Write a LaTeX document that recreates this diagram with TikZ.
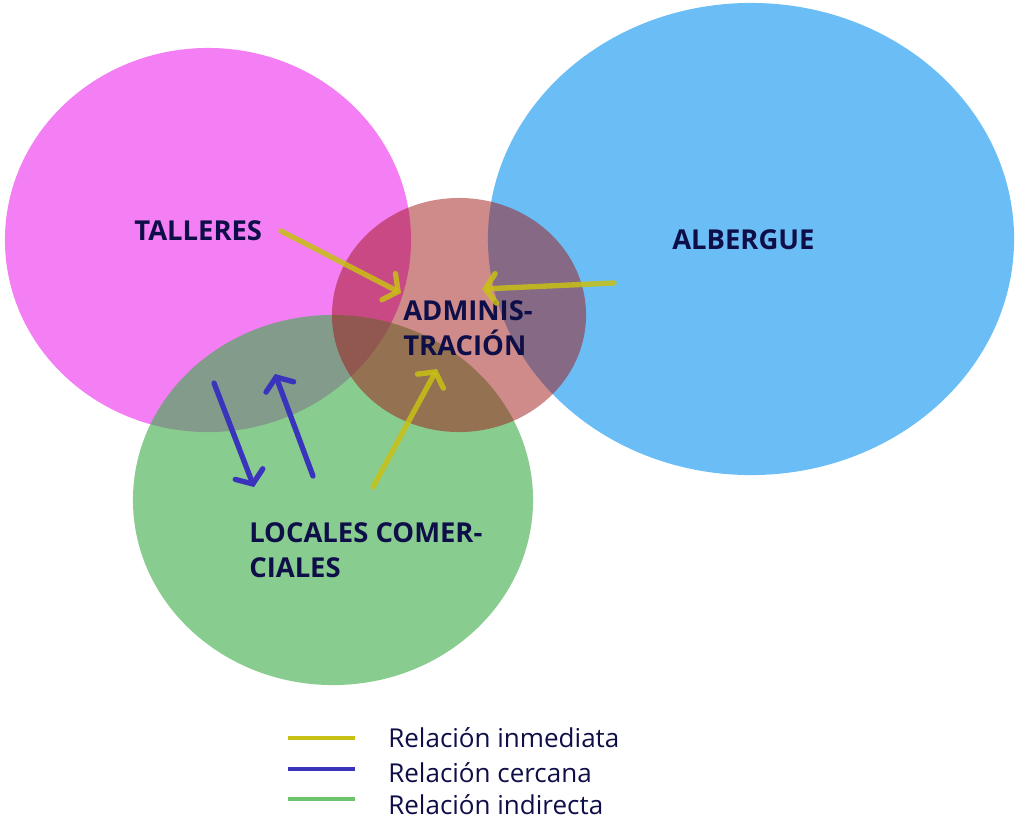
\documentclass[tikz,border=0pt]{standalone}
\usepackage{fontspec}
\setmainfont{Open Sans}
\usepackage{tikz}
\usetikzlibrary{arrows.meta,shapes.geometric}

\definecolor{tallerescol}{RGB}{244,126,244}
\definecolor{alberguecol}{RGB}{107,190,245}
\definecolor{localescol}{RGB}{63,174,74}
\definecolor{admincol}{RGB}{160,22,22}
\definecolor{labelcol}{RGB}{14,14,72}
\definecolor{inmediata}{RGB}{200,192,20}
\definecolor{cercana}{RGB}{58,52,188}
\definecolor{indirecta}{RGB}{108,196,108}

\begin{document}
\begin{tikzpicture}[
    x=0.025cm, y=-0.025cm,
    zone/.style={ellipse, inner sep=0pt},
    label/.style={text=labelcol, inner sep=0pt, font=\fontsize{19.5}{24.5}\selectfont\bfseries, align=left},
    legtext/.style={text=labelcol, inner sep=0pt, anchor=base west, font=\fontsize{18.5}{21}\selectfont},
    legline/.style={line width=3.5pt},
    rel/.style={line width=3.8pt, line cap=round, -{Straight Barb[length=7.5pt, width=21pt, line cap=round]}},
    immediate/.style={rel, draw=inmediata, draw opacity=0.85},
    close/.style={rel, draw=cercana}
]
\useasboundingbox (0,0) rectangle (1016,825);

% Zones
\node[zone, fill=tallerescol, minimum width=10.15cm, minimum height=9.6cm] (talleres) at (208,240) {};
\node[zone, fill=alberguecol, minimum width=13.15cm, minimum height=11.8cm] (albergue) at (751,239) {};
\node[zone, fill=localescol, fill opacity=0.62, minimum width=10cm, minimum height=9.25cm] (locales) at (333,500) {};
\node[zone, fill=admincol, fill opacity=0.5, minimum width=6.35cm, minimum height=5.85cm] (admin) at (459,315) {};

% Labels
\node[label, anchor=base west] (talleres_lbl) at (134,240) {TALLERES};
\node[label, anchor=base west] (albergue_lbl) at (672,249) {ALBERGUE};
\node[label, anchor=base west] (admin_lbl) at (403,355) {ADMINIS-\\TRACIÓN};
\node[label, anchor=base west] (locales_lbl) at (249,577) {LOCALES COMER-\\CIALES};

% Arrow ends
\coordinate (t_from) at (281,231);
\coordinate (t_to) at (401,293);
\coordinate (a_from) at (614,283);
\coordinate (a_to) at (482,289);
\coordinate (l_from) at (373,487);
\coordinate (l_to) at (437,369);
\coordinate (down_from) at (214,383);
\coordinate (down_to) at (254,487);
\coordinate (up_from) at (313,476);
\coordinate (up_to) at (275,374);

% Immediate relations
\draw[immediate] (t_from) -- (t_to);
\draw[immediate] (a_from) -- (a_to);
\draw[immediate] (l_from) -- (l_to);

% Close relations
\draw[close] (down_from) -- (down_to);
\draw[close] (up_from) -- (up_to);

% Legend
\coordinate (leg1) at (288,738);
\coordinate (leg2) at (288,769);
\coordinate (leg3) at (288,799);
\draw[legline, inmediata] (leg1) -- ++(67,0);
\draw[legline, cercana] (leg2) -- ++(67,0);
\draw[legline, indirecta] (leg3) -- ++(67,0);
\node[legtext] (leg1_txt) at (388,747) {Relación inmediata};
\node[legtext] (leg2_txt) at (388,782) {Relación cercana};
\node[legtext] (leg3_txt) at (388,814) {Relación indirecta};

\end{tikzpicture}
\end{document}
